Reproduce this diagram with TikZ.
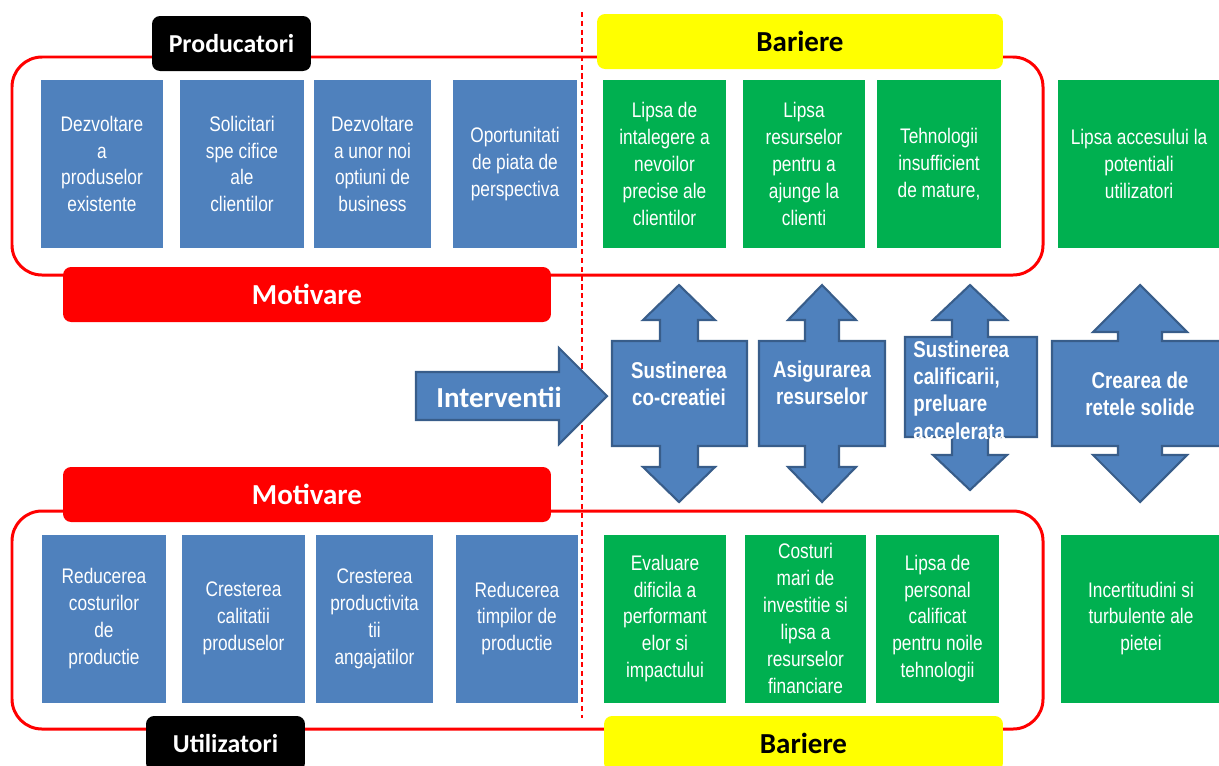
\documentclass[tikz,border=0pt]{standalone}
\usepackage{fontspec}
\setmainfont{Liberation Sans}
\newfontfamily\narrowfont[FakeStretch=0.82]{Liberation Sans}
\newfontfamily\tagfont{Carlito}
\definecolor{boxblue}{HTML}{4F81BD}
\definecolor{boxgreen}{HTML}{00B050}
\definecolor{arrowline}{HTML}{385D8A}
\definecolor{framered}{HTML}{FF0000}
\definecolor{tagyellow}{HTML}{FFFF00}
\tikzset{
  infocell/.style={minimum height=3.36cm, inner sep=0pt, align=center, text=white,
    font=\narrowfont\fontsize{12}{15.3}\selectfont},
  bluecell/.style={infocell, fill=boxblue},
  greencell/.style={infocell, fill=boxgreen},
  labeltag/.style={rounded corners=0.16cm, minimum height=1.1cm, inner sep=0pt,
    font=\tagfont\bfseries\fontsize{16.5}{18}\selectfont},
  darktag/.style={labeltag, fill=black, text=white, minimum width=3.18cm,
    font=\tagfont\bfseries\fontsize{14.7}{17}\selectfont},
  redframe/.style={draw=framered, line width=1.7pt, rounded corners=0.6cm},
  bigarrow/.style={fill=boxblue, draw=arrowline, line width=1.2pt, line join=miter},
  arrowtext/.style={text=white, inner sep=0pt, font=\narrowfont\bfseries\fontsize{13}{15.6}\selectfont}
}

\begin{document}
\begin{tikzpicture}[x=0.02cm,y=-0.02cm]
  \useasboundingbox (0,0) rectangle (1219,765);
  \clip (0,0) rectangle (1219,765);

  % frames
  \draw[redframe] (12,57) rectangle (1043,275);
  \draw[redframe] (12,511) rectangle (1043,729);
  \draw[framered, line width=0.6pt, dash pattern=on 3pt off 2pt] (582,12) -- (582,718);

  % labels
  \node[darktag] (prod) at (231.5,43.5) {Producatori};
  \node[labeltag, fill=tagyellow, minimum width=8.12cm] (bartop) at (800,41.5) {Bariere};
  \node[labeltag, fill=framered, text=white, minimum width=9.76cm] (mottop) at (307,294.5) {Motivare};
  \node[labeltag, fill=framered, text=white, minimum width=9.76cm] (motbot) at (307,494.5) {Motivare};
  \node[darktag] (util) at (225.5,743.5) {Utilizatori};
  \node[labeltag, fill=tagyellow, minimum width=7.98cm] (barbot) at (803.5,743.5) {Bariere};

  % producatori
  \node[bluecell, minimum width=2.44cm] (p1) at (102,164) {Dezvoltare\\a\\produselor\\existente};
  \node[bluecell, minimum width=2.48cm] (p2) at (242,164) {Solicitari\\spe cifice\\ale\\clientilor};
  \node[bluecell, minimum width=2.34cm] (p3) at (372.5,164) {Dezvoltare\\a unor noi\\optiuni de\\business};
  \node[bluecell, minimum width=2.48cm] (p4) at (515,164) {Oportunitati\\de piata de\\perspectiva};
  \node[greencell, minimum width=2.46cm] (g1) at (664.5,164) {Lipsa de\\intalegere a\\nevoilor\\precise ale\\clientilor};
  \node[greencell, minimum width=2.44cm] (g2) at (804,164) {Lipsa\\resurselor\\pentru a\\ajunge la\\clienti};
  \node[greencell, minimum width=2.48cm] (g3) at (939,164) {Tehnologii\\insufficient\\de mature,};
  \node[greencell, minimum width=3.24cm] (g4) at (1139,164) {Lipsa accesului la\\potentiali\\utilizatori};

  % utilizatori
  \node[bluecell, minimum width=2.48cm] (u1) at (104,618.5) {Reducerea\\costurilor\\de\\productie};
  \node[bluecell, minimum width=2.46cm] (u2) at (243.5,618.5) {Cresterea\\calitatii\\produselor};
  \node[bluecell, minimum width=2.34cm] (u3) at (374.5,618.5) {Cresterea\\productivita\\tii\\angajatilor};
  \node[bluecell, minimum width=2.44cm] (u4) at (517,618.5) {Reducerea\\timpilor de\\productie};
  \node[greencell, minimum width=2.44cm] (h1) at (665,618.5) {Evaluare\\dificila a\\performant\\elor si\\impactului};
  \node[greencell, minimum width=2.42cm] (h2) at (805.5,618.5) {Costuri\\mari de\\investitie si\\lipsa a\\resurselor\\financiare};
  \node[greencell, minimum width=2.46cm] (h3) at (937.5,618.5) {Lipsa de\\personal\\calificat\\pentru noile\\tehnologii};
  \node[greencell, minimum width=3.22cm] (h4) at (1141,618.5) {Incertitudini si\\turbulente ale\\pietei};

  % interventii
  \draw[bigarrow] (416,372) -- (559,372) -- (559,348) -- (607,396) -- (559,444) -- (559,420) -- (416,420) -- cycle;
  \node[text=white, inner sep=0pt, font=\tagfont\bfseries\fontsize{16.5}{18}\selectfont] (interv) at (499,397) {Interventii};

  \draw[bigarrow] (679,285) -- (715,320) -- (698,320) -- (698,341) -- (747,341) -- (747,446) -- (698,446) -- (698,467) -- (715,467) -- (679,502) -- (643,467) -- (660,467) -- (660,446) -- (612,446) -- (612,341) -- (660,341) -- (660,320) -- (643,320) -- cycle;
  \draw[bigarrow] (822,285) -- (856,320) -- (839,320) -- (839,341) -- (885,341) -- (885,446) -- (839,446) -- (839,467) -- (856,467) -- (822,502) -- (788,467) -- (805,467) -- (805,446) -- (759,446) -- (759,341) -- (805,341) -- (805,320) -- (788,320) -- cycle;
  \draw[bigarrow] (970,285) -- (1007,320) -- (988,320) -- (988,337) -- (1037,337) -- (1037,437) -- (988,437) -- (988,455) -- (1007,455) -- (970,490) -- (933,455) -- (952,455) -- (952,437) -- (905,437) -- (905,337) -- (952,337) -- (952,320) -- (933,320) -- cycle;
  \draw[bigarrow] (1140,285) -- (1187,332) -- (1162,332) -- (1162,341) -- (1228,341) -- (1228,446) -- (1162,446) -- (1162,455) -- (1187,455) -- (1140,502) -- (1093,455) -- (1118,455) -- (1118,446) -- (1052,446) -- (1052,341) -- (1118,341) -- (1118,332) -- (1093,332) -- cycle;

  \node[arrowtext, align=center] (cocreat) at (679,384) {Sustinerea\\co-creatiei};
  \node[arrowtext, align=center] (resurse) at (822,383) {Asigurarea\\resurselor};
  \node[arrowtext, align=left, anchor=west] (calific) at (913,390) {Sustinerea\\calificarii,\\preluare\\accelerata};
  \node[arrowtext, align=center] (retele) at (1140,394) {Crearea de\\retele solide};
\end{tikzpicture}
\end{document}
